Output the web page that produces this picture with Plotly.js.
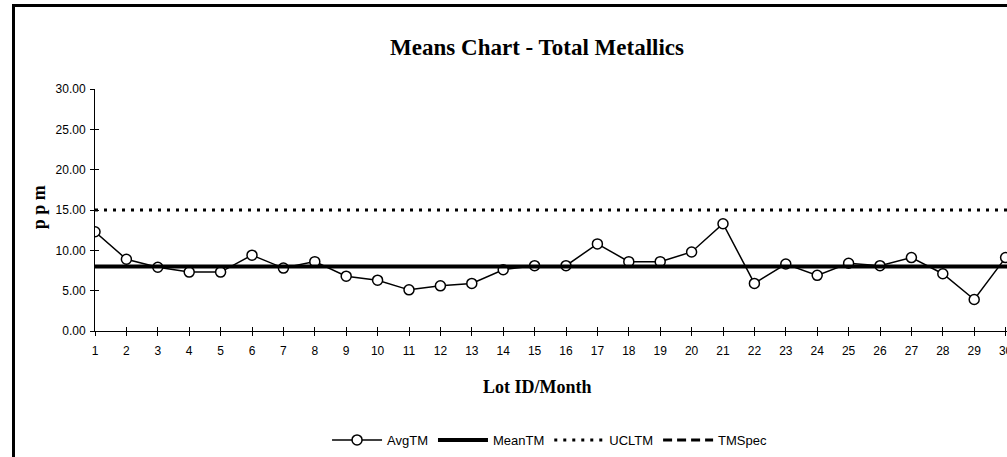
<!DOCTYPE html>
<html>
<head>
<meta charset="utf-8">
<script src="https://cdn.plot.ly/plotly-3.0.1.min.js"></script>
<style>
  html, body { margin: 0; padding: 0; width: 1007px; height: 457px; overflow: hidden; background: #fff; }
  #frame { position: absolute; left: 12px; top: 4px; border: 3px solid #000; width: 1042px; height: 480px; background: #fff; }
  #chart { width: 1042px; height: 480px; }
</style>
</head>
<body>
<div id="frame"><div id="chart"></div></div>
<script>
// ---- data ----
const lots = [1,2,3,4,5,6,7,8,9,10,11,12,13,14,15,16,17,18,19,20,21,22,23,24,25,26,27,28,29,30,31];
const lotLabels = ["1","2","3","4","5","6","7","8","9","10","11","12","13","14","15","16","17","18","19","20","21","22","23","24","25","26","27","28","29","30","31"];
const avgTM = [12.3, 8.9, 7.9, 7.3, 7.3, 9.4, 7.8, 8.6, 6.8, 6.3, 5.1, 5.6, 5.9, 7.6, 8.1, 8.1, 10.8, 8.6, 8.6, 9.8, 13.3, 5.9, 8.3, 6.9, 8.4, 8.1, 9.1, 7.1, 3.9, 9.1];
const meanTM = [8.0, 8.0, 8.0, 8.0, 8.0, 8.0, 8.0, 8.0, 8.0, 8.0, 8.0, 8.0, 8.0, 8.0, 8.0, 8.0, 8.0, 8.0, 8.0, 8.0, 8.0, 8.0, 8.0, 8.0, 8.0, 8.0, 8.0, 8.0, 8.0, 8.0, 8.0];
const uclTM = [15.0, 15.0, 15.0, 15.0, 15.0, 15.0, 15.0, 15.0, 15.0, 15.0, 15.0, 15.0, 15.0, 15.0, 15.0, 15.0, 15.0, 15.0, 15.0, 15.0, 15.0, 15.0, 15.0, 15.0, 15.0, 15.0, 15.0, 15.0, 15.0, 15.0, 15.0];
// TMSpec is listed in the legend but no line of it shows inside the plotted range
const tmSpec = [null, null, null, null, null, null, null, null, null, null, null, null, null, null, null, null, null, null, null, null, null, null, null, null, null, null, null, null, null, null, null];
const yTicks = [0, 5, 10, 15, 20, 25, 30];

const narrow = "Liberation Sans Narrow, Arial Narrow, Liberation Sans, Arial, sans-serif";
const serif = "Liberation Serif, Times New Roman, serif";

const traces = [
  { x: lots.slice(0, avgTM.length), y: avgTM, name: 'AvgTM', type: 'scatter', mode: 'lines+markers',
    line: { color: '#000', width: 1.5 },
    marker: { symbol: 'circle', size: 10, color: '#fff', line: { color: '#000', width: 1.5 } } },
  { x: lots, y: meanTM, name: 'MeanTM', type: 'scatter', mode: 'lines',
    line: { color: '#000', width: 4 } },
  { x: lots, y: uclTM, name: 'UCLTM', type: 'scatter', mode: 'lines',
    line: { color: '#000', width: 3, dash: '3px,6px' } },
  { x: lots, y: tmSpec, name: 'TMSpec', type: 'scatter', mode: 'lines', xaxis: 'x2', yaxis: 'y2',
    line: { color: '#000', width: 3, dash: '9px,5px' } }
];

const axCommon = { showgrid: false, zeroline: false };
const layout = {
  width: 1042, height: 480,
  paper_bgcolor: '#fff', plot_bgcolor: '#fff',
  margin: { l: 80, r: 20, t: 82, b: 155.5 },
  title: { text: '<b>Means Chart - Total Metallics</b>', font: { family: serif, size: 23, color: '#000' },
           xref: 'container', x: 0.501, xanchor: 'center', yref: 'container', y: 0.917, yanchor: 'middle' },
  showlegend: true,
  legend: { orientation: 'h', xref: 'container', x: 0.513, xanchor: 'center', yref: 'container', y: 0.098, yanchor: 'middle',
            font: { family: narrow, size: 13, color: '#000' }, itemwidth: 50, bgcolor: 'rgba(0,0,0,0)' },
  xaxis: Object.assign({}, axCommon, {
    range: [1, 31], tickmode: 'array', tickvals: lots, ticktext: lotLabels,
    showline: true, linecolor: '#000', linewidth: 1,
    ticks: 'outside', ticklen: 4, tickwidth: 1, tickcolor: '#000', ticklabelstandoff: 5,
    tickfont: { family: narrow, size: 12, color: '#000' }, fixedrange: true
  }),
  yaxis: Object.assign({}, axCommon, {
    range: [0, 30], tickmode: 'array', tickvals: yTicks, tickformat: '.2f',
    showline: true, linecolor: '#000', linewidth: 1,
    ticks: 'outside', ticklen: 4, tickwidth: 1, tickcolor: '#000', ticklabelstandoff: 2,
    tickfont: { family: narrow, size: 12, color: '#000' }, fixedrange: true
  }),
  xaxis2: Object.assign({}, axCommon, {
    overlaying: 'x', anchor: 'y2', range: [1, 31], tickmode: 'array', tickvals: lots,
    showticklabels: false, showline: false, ticks: 'inside', ticklen: 4, tickwidth: 1, tickcolor: '#000'
  }),
  yaxis2: Object.assign({}, axCommon, {
    overlaying: 'y', anchor: 'x2', side: 'left', range: [0, 30], tickmode: 'array', tickvals: yTicks,
    showticklabels: false, showline: false, ticks: 'inside', ticklen: 4, tickwidth: 1, tickcolor: '#000'
  }),
  annotations: [
    { text: '<b>Lot ID/Month</b>', xref: 'paper', yref: 'paper', x: 0.470, y: -0.233, xanchor: 'center', yanchor: 'middle',
      showarrow: false, font: { family: serif, size: 18, color: '#000' } },
    { text: '<b>p p m</b>', xref: 'paper', yref: 'paper', x: -0.0600, y: 0.513, xanchor: 'center', yanchor: 'middle',
      textangle: -90, showarrow: false, font: { family: serif, size: 18, color: '#000' } }
  ]
};

Plotly.newPlot('chart', traces, layout, { displayModeBar: false, staticPlot: true });
</script>
</body>
</html>
